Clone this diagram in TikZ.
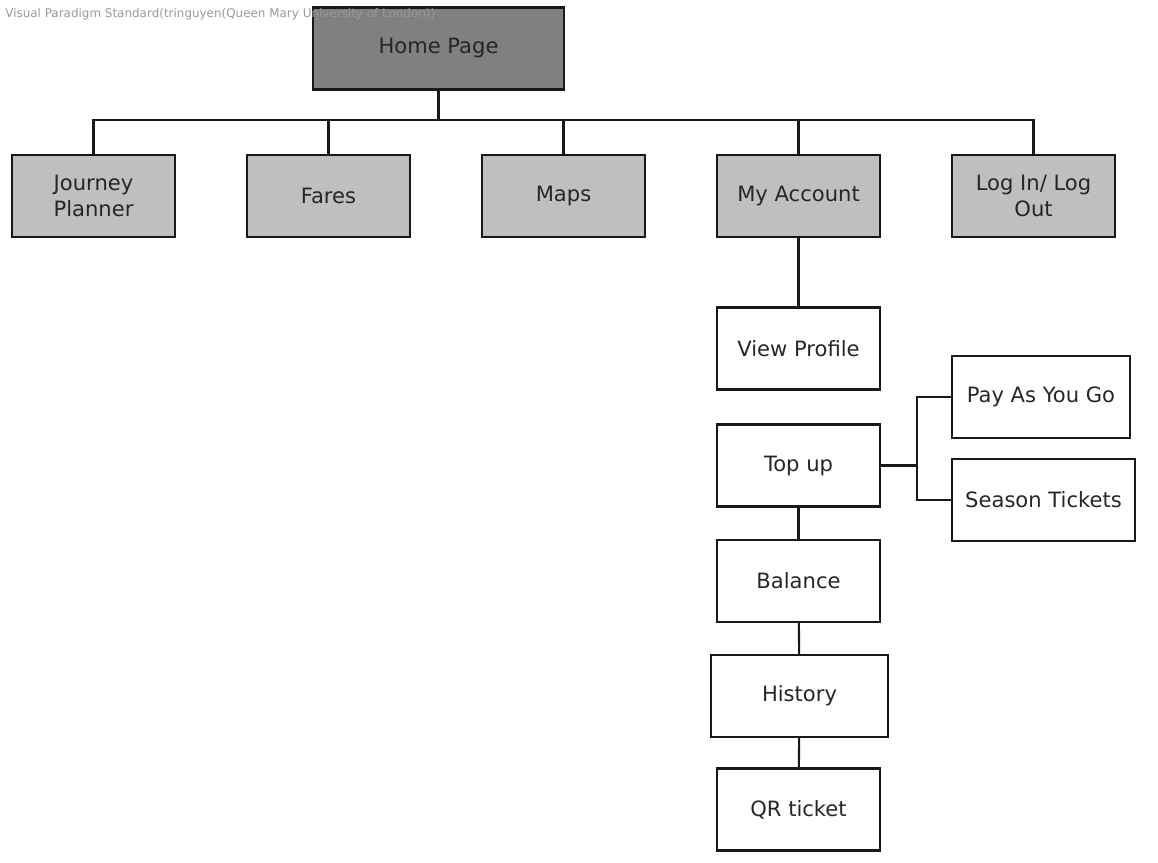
\documentclass[tikz,border=0pt]{standalone}
\usepackage{fontspec}
\setsansfont{DejaVu Sans}
\usepackage{tikz}
\usetikzlibrary{calc}

\begin{document}
\begin{tikzpicture}[x=0.02cm, y=-0.02cm,
		page/.style={draw=black!90, line width=1.2pt, align=center, text=black!85,
			font=\sffamily\fontsize{12}{15.3}\selectfont, inner sep=0pt,
			minimum width=163*0.02cm, minimum height=82*0.02cm},
		root/.style={page, fill=black!50, minimum width=251*0.02cm},
		section/.style={page, fill=black!25},
		link/.style={draw=black!90, line width=1.2pt}]
		%%%%% START %%%%%
		
		\useasboundingbox (0, 0) rectangle (1158, 862);
		
		% top level
		\node[root] (home) at (438.5, 48.5) {Home Page};
		\coordinate (bus) at (0, 120);
		
		\node[section] (journey) at (93.5, 196) {Journey\\Planner};
		\node[section] (fares) at (328.5, 196) {Fares};
		\node[section] (maps) at (563.5, 196) {Maps};
		\node[section] (account) at (798.5, 196) {My Account};
		\node[section] (login) at (1033.5, 196) {Log In/ Log\\Out};
		
		\foreach \sec in {journey, fares, maps, account, login}
			\draw[link] (\sec.north) -- (\sec.north |- bus) -- (home.south |- bus) -- (home.south);
		
		% my account
		\node[page] (profile) at (798.5, 348.5) {View Profile};
		\node[page] (topup) at (798.5, 465.5) {Top up};
		\node[page, minimum width=178*0.02cm] (payg) at (1041, 397) {Pay As You Go};
		\node[page, minimum width=183*0.02cm] (season) at (1043.5, 500) {Season Tickets};
		\node[page] (balance) at (798.5, 581) {Balance};
		\node[page, minimum width=177*0.02cm] (history) at (799.5, 696) {History};
		\node[page] (qr) at (798.5, 809.5) {QR ticket};
		
		\draw[link] (account) -- (profile);
		\draw[link] (topup) -- (balance);
		\draw[link] (balance) -- (history);
		\draw[link] (history) -- (qr);
		
		\coordinate (fork) at ($(topup.east)+(36, 0)$);
		\draw[link] (topup.east) -- (fork);
		\draw[link] (fork) |- (payg.west);
		\draw[link] (fork) |- (season.west);
		
		\node[anchor=west, inner sep=0pt, text=black!40, font=\sffamily\fontsize{6.8}{8}\selectfont] (stamp) at (5, 14)
			{Visual Paradigm Standard(tringuyen(Queen Mary University of London))};
		
		%%%%% END %%%%%
	\end{tikzpicture}
\end{document}
